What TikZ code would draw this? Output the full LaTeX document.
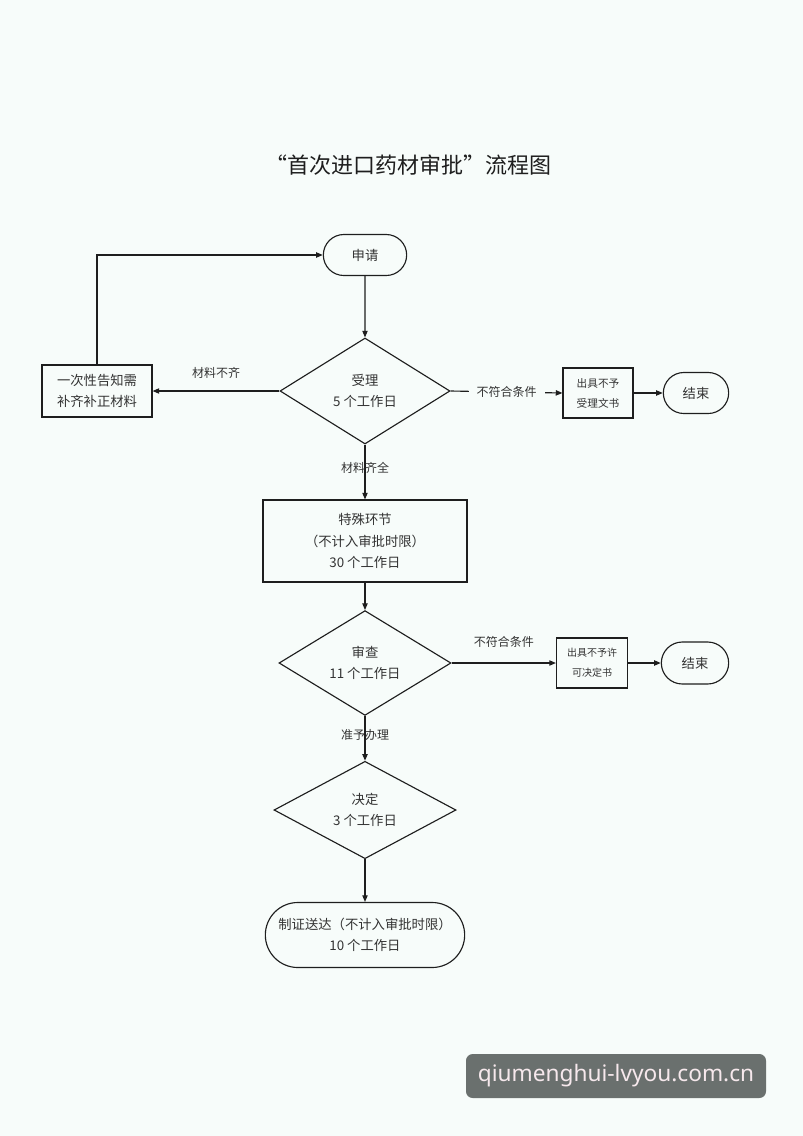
\documentclass[tikz,border=0pt]{standalone}
\usepackage{fontspec}
\setmainfont{Noto Sans CJK SC}
\newfontfamily\wmfont{Noto Sans}
\usetikzlibrary{arrows.meta,shapes.geometric,shapes.misc}
\definecolor{flowbg}{HTML}{F7FCFA}
\definecolor{flowink}{HTML}{1E1E1E}
\definecolor{flowtxt}{HTML}{333333}
\definecolor{wmgrey}{HTML}{6A706E}
\definecolor{wmtxt}{HTML}{F6E8EC}
\tikzset{
  bx/.style={draw=flowink, line width=0.85pt, align=center, text=flowtxt, inner sep=1pt, font=\fontsize{10}{16}\selectfont},
  stepbox/.style={bx, rectangle},
  smallbox/.style={bx, rectangle, font=\fontsize{8}{15}\selectfont},
  term/.style={bx, rounded rectangle},
  dec/.style={bx, diamond, inner sep=0pt},
  arr/.style={-{Triangle[length=5pt, width=4pt]}, line width=0.85pt, color=flowink},
  lbl/.style={font=\fontsize{9}{11}\selectfont, text=flowtxt, inner sep=1pt},
}
\begin{document}
\begin{tikzpicture}[x=0.75pt, y=-0.75pt]
    \useasboundingbox[fill=flowbg] (0,0) rectangle (803,1136);
    \node[font=\fontsize{16.5}{18}\selectfont, text=flowink] (title) at (408,165) {“首次进口药材审批”流程图};
    % main column
    \node[term, minimum width=64.5pt, minimum height=30.75pt] (apply) at (365,255) {申请};
    \node[dec, minimum width=127.5pt, minimum height=79.5pt] (accept) at (365,391) {受理\\5 个工作日};
    \node[stepbox, minimum width=153pt, minimum height=61.5pt] (special) at (365,541) {特殊环节\\（不计入审批时限）\\30 个工作日};
    \node[dec, minimum width=129pt, minimum height=72.75pt] (review) at (365,663) {审查\\11 个工作日};
    \node[dec, minimum width=136.5pt, minimum height=63.75pt] (decide) at (365,810) {决定\\3 个工作日};
    \node[term, minimum width=151.5pt, minimum height=48.75pt] (issue) at (365,935) {制证送达（不计入审批时限）\\10 个工作日};
    % side boxes
    \node[stepbox, minimum width=82.5pt, minimum height=39pt] (notify) at (97,391) {一次性告知需\\补齐补正材料};
    \node[smallbox, minimum width=52.5pt, minimum height=37.5pt] (reject1) at (598,393) {出具不予\\受理文书};
    \node[term, minimum width=51pt, minimum height=30.75pt] (end1) at (696,393) {结束};
    \node[smallbox, font=\fontsize{7.5}{15}\selectfont, minimum width=53.25pt, minimum height=37.5pt] (reject2) at (592,663) {出具不予许\\可决定书};
    \node[term, minimum width=52.5pt, minimum height=31.5pt] (end2) at (695,663) {结束};
    % connectors
    \draw[arr] (apply) -- (accept);
    \draw[arr] (accept.west) -- node[lbl, above=8pt]{材料不齐} (notify.east);
    \draw[arr] (notify.north) |- (apply.west);
    \draw[arr] (accept.east) -- node[lbl, fill=flowbg, inner xsep=6pt]{不符合条件} (reject1.west);
    \draw[arr] (reject1) -- (end1);
    \draw[arr] (accept.south) -- node[lbl, pos=0.43]{材料齐全} (special.north);
    \draw[arr] (special) -- (review.north);
    \draw[arr] (review.east) -- node[lbl, above=10pt]{不符合条件} (reject2.west);
    \draw[arr] (reject2) -- (end2);
    \draw[arr] (review.south) -- node[lbl, pos=0.42]{准予办理} (decide.north);
    \draw[arr] (decide.south) -- (issue.north);
    % watermark
    \node[fill=wmgrey, rounded corners=5pt, minimum width=225pt, minimum height=33pt, text=wmtxt, font=\wmfont\fontsize{17}{19}\selectfont] (mark) at (616,1076) {qiumenghui-lvyou.com.cn};
\end{tikzpicture}
\end{document}
